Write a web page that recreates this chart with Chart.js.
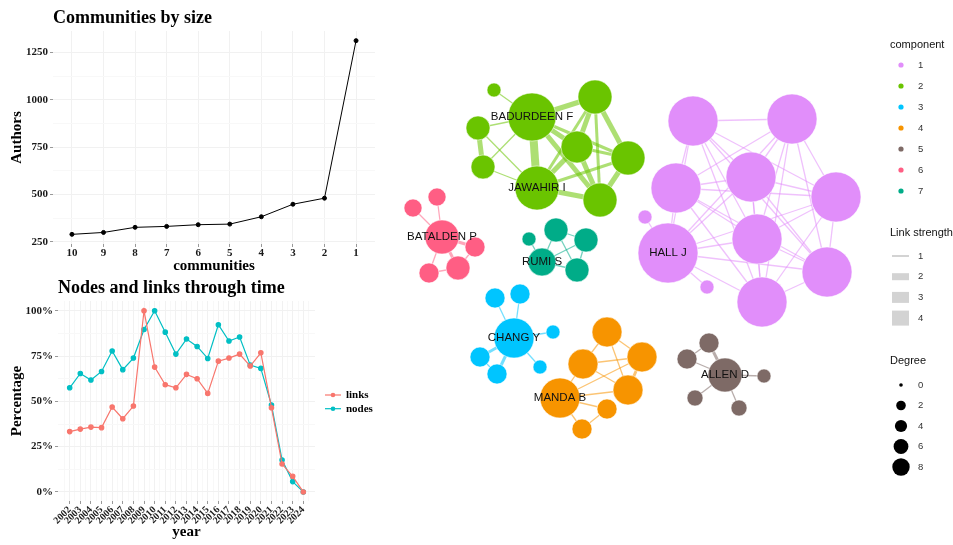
<!DOCTYPE html>
<html>
<head>
<meta charset="utf-8">
<script src="https://cdn.jsdelivr.net/npm/chart.js@4.4.1/dist/chart.umd.min.js"></script>
<style>
body{margin:0;background:#fff;width:953px;height:545px;overflow:hidden;position:relative}
canvas{position:absolute}
#c1{left:0;top:0}
#c2{left:0;top:275px}
#c3{left:380px;top:0}
</style>
</head>
<body>
<canvas id="c1" width="380" height="275"></canvas>
<canvas id="c2" width="380" height="270"></canvas>
<canvas id="c3" width="573" height="545"></canvas>
<script>
// ---- communities by size
var communities = [10, 9, 8, 7, 6, 5, 4, 3, 2, 1];
var authors = [289, 299, 326, 331, 340, 343, 382, 448, 480, 1312];
var authorTicks = [250, 500, 750, 1000, 1250];

// ---- nodes and links through time (%)
var years = [2002, 2003, 2004, 2005, 2006, 2007, 2008, 2009, 2010, 2011, 2012, 2013,
  2014, 2015, 2016, 2017, 2018, 2019, 2020, 2021, 2022, 2023, 2024];
var linksPct = [33.3, 34.7, 35.8, 35.5, 46.9, 40.4, 47.4, 100, 68.9, 59.2, 57.5, 64.9,
  62.5, 54.4, 72.2, 73.9, 76.1, 69.5, 76.8, 46.5, 15.4, 8.6, 0];
var nodesPct = [57.5, 65.4, 61.8, 66.5, 77.8, 67.5, 73.9, 89.7, 100, 88.2, 76.1, 84.4,
  80.3, 73.7, 92.3, 83.3, 85.5, 70, 68.2, 48, 17.6, 5.7, 0];
var pctTicks = [0, 25, 50, 75, 100];

// ---- co-authorship network (layout coordinates, component, size score)
var nodeLabel = ['', '', '', '', '', '', 'HALL J', '', '', '', '',
  '', 'BADURDEEN F', '', '', '', '', '', 'JAWAHIR I', '',
  '', '', 'CHANG Y', '', '', '', '',
  '', '', '', '', 'MANDA B', '', '',
  '', '', 'ALLEN D', '', '', '',
  '', '', 'BATALDEN P', '', '', '',
  '', '', '', 'RUMI S', ''];
var nodeX = [693, 792, 676, 751, 836, 757, 668, 827, 762, 645, 707,
  494, 532, 595, 478, 577, 628, 483, 537, 600,
  495, 520, 514, 553, 480, 497, 540,
  607, 583, 642, 628, 560, 607, 582,
  709, 687, 725, 764, 695, 739,
  437, 413, 442, 475, 458, 429,
  529, 556, 586, 542, 577];
var nodeY = [121, 119, 188, 177, 197, 239, 253, 272, 302, 217, 287,
  90, 117, 97, 128, 147, 158, 167, 188, 200,
  298, 294, 338, 332, 357, 374, 367,
  332, 364, 357, 390, 398, 409, 429,
  343, 359, 375, 376, 398, 408,
  197, 208, 237, 247, 268, 273,
  239, 230, 240, 262, 270];
var nodeComp = [1, 1, 1, 1, 1, 1, 1, 1, 1, 1, 1,
  2, 2, 2, 2, 2, 2, 2, 2, 2,
  3, 3, 3, 3, 3, 3, 3,
  4, 4, 4, 4, 4, 4, 4,
  5, 5, 5, 5, 5, 5,
  6, 6, 6, 6, 6, 6,
  7, 7, 7, 7, 7];
var nodeScore = [10, 10, 10, 10, 10, 10, 12, 10, 10, 2.8, 2.8,
  2.8, 9.6, 6.8, 4.8, 6.4, 6.8, 4.8, 8.8, 6.8,
  4, 4, 8, 2.8, 4, 4, 2.8,
  6, 6, 6, 6, 8, 4, 4,
  4, 4, 6.8, 2.8, 3.2, 3.2,
  3.6, 3.6, 6.8, 4, 4.8, 4,
  2.8, 4.8, 4.8, 5.6, 4.8];

var edgeFrom = [], edgeTo = [], edgeStrength = [];
function link(a, b, s) { edgeFrom.push(a); edgeTo.push(b); edgeStrength.push(s); }
// component 1: dense clique
for (var i = 0; i < 9; i++) for (var j = i + 1; j < 9; j++) link(i, j, 1);
link(9, 6, 1); link(10, 6, 1);
// component 2
link(12, 11, 1); link(12, 13, 3); link(12, 14, 1); link(12, 15, 3); link(12, 18, 4);
link(12, 16, 2); link(12, 19, 3); link(13, 15, 3); link(13, 16, 3); link(13, 19, 2);
link(13, 18, 2); link(15, 16, 2); link(15, 18, 3); link(15, 19, 3); link(16, 18, 2);
link(16, 19, 3); link(18, 19, 3); link(14, 17, 3); link(14, 18, 1); link(17, 12, 1);
link(17, 18, 1);
// component 3
link(20, 22, 1); link(21, 22, 1); link(22, 23, 1); link(22, 24, 2); link(22, 25, 2);
link(24, 25, 1); link(22, 26, 1);
// component 4
link(27, 28, 1); link(27, 29, 1); link(27, 30, 1); link(28, 29, 1); link(28, 30, 1);
link(28, 31, 1); link(29, 30, 2); link(29, 31, 1); link(30, 31, 1); link(31, 32, 1);
link(32, 33, 1); link(31, 33, 1);
// component 5
link(34, 35, 1); link(34, 36, 2); link(35, 36, 1); link(36, 37, 1); link(36, 38, 1); link(36, 39, 1);
// component 6
link(41, 42, 1); link(40, 42, 1); link(42, 43, 2); link(42, 44, 2); link(42, 45, 1);
link(43, 44, 1); link(45, 44, 1);
// component 7
link(46, 49, 1); link(47, 49, 1); link(47, 48, 1); link(49, 48, 1); link(49, 50, 1);
link(47, 50, 1); link(48, 50, 1);

var componentIds = [1, 2, 3, 4, 5, 6, 7];
var componentColors = ['#E18EFA', '#6AC400', '#00C5FF', '#F79400', '#7E6A66', '#FF5E84', '#00AC88'];
var strengthLevels = [1, 2, 3, 4];
var degreeLevels = [0, 2, 4, 6, 8];

var serif = "'Liberation Serif', 'Times New Roman', serif";
var sans = "'Liberation Sans', Arial, sans-serif";

function rgba(hex, a) {
  var n = parseInt(hex.slice(1), 16);
  return 'rgba(' + (n >> 16) + ',' + ((n >> 8) & 255) + ',' + (n & 255) + ',' + a + ')';
}
function withMinor(major, lo, hi) {
  var t = [];
  var step = major[1] - major[0];
  for (var v = major[0] - step / 2; v <= major[major.length - 1] + step / 2 + 1e-9; v += step / 2) {
    if (v >= lo && v <= hi) t.push({ value: v });
  }
  return t;
}
function isMajor(list, v) { return list.indexOf(v) >= 0; }

var tickFont = { family: serif, size: 11, weight: 'bold' };
var axisFont = { family: serif, size: 15, weight: 'bold' };
var titleFont = { family: serif, size: 18, weight: 'bold' };
var majorGrid = '#f1f1f1', minorGrid = '#f8f8f8';

// ================= chart 1 =================
new Chart(document.getElementById('c1'), {
  type: 'line',
  data: {
    datasets: [{
      data: communities.map(function (c, i) { return { x: c, y: authors[i] }; }),
      borderColor: '#000', backgroundColor: '#000', borderWidth: 1,
      pointRadius: 2, tension: 0
    }]
  },
  options: {
    responsive: false, animation: false,
    layout: { padding: { left: 0, right: 4, top: 0, bottom: 0 } },
    plugins: {
      legend: { display: false }, tooltip: { enabled: false },
      title: { display: true, text: 'Communities by size', align: 'start', fullSize: false,
        font: titleFont, color: '#000', padding: { top: 7.8, bottom: 1.6 } }
    },
    scales: {
      x: {
        type: 'linear', reverse: true, min: 0.4, max: 10.6,
        afterBuildTicks: function (s) { s.ticks = communities.map(function (v) { return { value: v }; }); },
        afterFit: function (s) { s.height = 31; },
        ticks: { font: tickFont, color: '#1a1a1a', padding: 0, maxRotation: 0, autoSkip: false,
          callback: function (v) { return String(v); } },
        grid: { color: majorGrid, lineWidth: 1, tickLength: 3, tickColor: '#999' },
        border: { display: false },
        title: { display: true, text: 'communities', font: axisFont, color: '#000', padding: { top: 0, bottom: 0 } }
      },
      y: {
        type: 'linear', min: 238, max: 1363,
        afterBuildTicks: function (s) { s.ticks = withMinor(authorTicks, 238, 1363); },
        afterFit: function (s) { s.width = 53; },
        ticks: { font: tickFont, color: '#1a1a1a', padding: 2,
          callback: function (v) { return isMajor(authorTicks, v) ? String(v) : ''; } },
        grid: {
          color: function (c) { return c.tick && isMajor(authorTicks, c.tick.value) ? majorGrid : minorGrid; },
          tickColor: function (c) { return c.tick && isMajor(authorTicks, c.tick.value) ? '#999' : 'rgba(0,0,0,0)'; },
          tickLength: 3
        },
        border: { display: false },
        title: { display: true, text: 'Authors', font: axisFont, color: '#000', padding: { top: 8.5, bottom: 0 } }
      }
    }
  }
});

// ================= chart 2 =================
var c2legend = {
  id: 'c2legend',
  afterDraw: function (chart) {
    var ctx = chart.ctx;
    ctx.save();
    chart.data.datasets.forEach(function (ds, i) {
      var y = 120 + i * 13.7;
      ctx.strokeStyle = ds.borderColor; ctx.lineWidth = 1.2;
      ctx.beginPath(); ctx.moveTo(325, y); ctx.lineTo(341, y); ctx.stroke();
      ctx.fillStyle = ds.borderColor;
      ctx.beginPath(); ctx.arc(333, y, 2.3, 0, Math.PI * 2); ctx.fill();
      ctx.fillStyle = '#000'; ctx.font = 'bold 11px ' + serif;
      ctx.textBaseline = 'middle'; ctx.textAlign = 'left';
      ctx.fillText(ds.label, 346, y);
    });
    ctx.restore();
  }
};
new Chart(document.getElementById('c2'), {
  type: 'line',
  data: {
    datasets: [
      { label: 'links', data: years.map(function (y, i) { return { x: y, y: linksPct[i] }; }),
        borderColor: '#F8766D', backgroundColor: '#F8766D', borderWidth: 1.2, pointRadius: 2.2, tension: 0 },
      { label: 'nodes', data: years.map(function (y, i) { return { x: y, y: nodesPct[i] }; }),
        borderColor: '#00BFC4', backgroundColor: '#00BFC4', borderWidth: 1.2, pointRadius: 2.2, tension: 0 }
    ]
  },
  plugins: [c2legend],
  options: {
    responsive: false, animation: false,
    layout: { padding: { left: 0, right: 65, top: 0, bottom: 0 } },
    plugins: {
      legend: { display: false }, tooltip: { enabled: false },
      title: { display: true, text: 'Nodes and links through time', align: 'start', fullSize: false,
        font: titleFont, color: '#000', padding: { top: 2.2, bottom: 2.2 } }
    },
    scales: {
      x: {
        type: 'linear', min: 2000.9, max: 2025.1,
        afterBuildTicks: function (s) { s.ticks = withMinor(years, 2000.9, 2025.1); },
        afterFit: function (s) { s.height = 44; },
        ticks: { font: { family: serif, size: 10, weight: 'bold' }, color: '#1a1a1a', padding: 0,
          minRotation: 45, maxRotation: 45, autoSkip: false,
          callback: function (v) { return isMajor(years, v) ? String(v) : ''; } },
        grid: {
          color: function (c) { return c.tick && isMajor(years, c.tick.value) ? majorGrid : minorGrid; },
          tickColor: function (c) { return c.tick && isMajor(years, c.tick.value) ? '#999' : 'rgba(0,0,0,0)'; },
          tickLength: 3
        },
        border: { display: false },
        title: { display: true, text: 'year', font: axisFont, color: '#000', padding: { top: 0, bottom: 3.5 } }
      },
      y: {
        type: 'linear', min: -5, max: 105.4,
        afterBuildTicks: function (s) { s.ticks = withMinor(pctTicks, -5, 105.4); },
        afterFit: function (s) { s.width = 58; },
        ticks: { font: tickFont, color: '#1a1a1a', padding: 2,
          callback: function (v) { return isMajor(pctTicks, v) ? v + '%' : ''; } },
        grid: {
          color: function (c) { return c.tick && isMajor(pctTicks, c.tick.value) ? majorGrid : minorGrid; },
          tickColor: function (c) { return c.tick && isMajor(pctTicks, c.tick.value) ? '#999' : 'rgba(0,0,0,0)'; },
          tickLength: 3
        },
        border: { display: false },
        title: { display: true, text: 'Percentage', font: axisFont, color: '#000', padding: { top: 8, bottom: 0 } }
      }
    }
  }
});

// ================= network =================
var netLeft = 380;
var strengthWidth = { 1: 1.3, 2: 3, 3: 5, 4: 8 };
function nodeRadius(score) { return score * 2.5; }

var edgeSets = edgeFrom.map(function (a, k) {
  var b = edgeTo[k];
  var col = componentColors[nodeComp[a] - 1];
  return {
    type: 'line',
    data: [{ x: nodeX[a], y: nodeY[a] }, { x: nodeX[b], y: nodeY[b] }],
    borderColor: rgba(col, 0.55), borderWidth: strengthWidth[edgeStrength[k]],
    pointRadius: 0, fill: false, clip: false, order: 2
  };
});
var nodeSets = componentIds.map(function (cid, ci) {
  var pts = [];
  nodeX.forEach(function (x, n) {
    if (nodeComp[n] === cid) pts.push({ x: x, y: nodeY[n], r: nodeRadius(nodeScore[n]), id: n });
  });
  return {
    type: 'bubble', label: String(cid), data: pts,
    backgroundColor: componentColors[ci], borderColor: 'rgba(255,255,255,0.55)', borderWidth: 1,
    clip: false, order: 1
  };
});

var netDecor = {
  id: 'netDecor',
  afterDatasetsDraw: function (chart) {
    var ctx = chart.ctx;
    ctx.save();
    ctx.font = '11.5px ' + sans; ctx.fillStyle = '#111';
    ctx.textAlign = 'center'; ctx.textBaseline = 'middle';
    chart.data.datasets.forEach(function (ds, di) {
      if (ds.type !== 'bubble') return;
      var meta = chart.getDatasetMeta(di);
      ds.data.forEach(function (p, j) {
        var lab = nodeLabel[p.id];
        if (lab) ctx.fillText(lab, meta.data[j].x, meta.data[j].y);
      });
    });
    // legends
    var lx = 890 - netLeft, kx = 901 - netLeft, tx = 918 - netLeft;
    ctx.textAlign = 'left';
    ctx.fillStyle = '#111'; ctx.font = '11px ' + sans;
    ctx.fillText('component', lx, 45);
    ctx.fillText('Link strength', lx, 233);
    ctx.fillText('Degree', lx, 361);
    ctx.font = '9.5px ' + sans;
    componentIds.forEach(function (cid, i) {
      var y = 65 + i * 21;
      ctx.fillStyle = componentColors[i];
      ctx.beginPath(); ctx.arc(kx, y, 2.6, 0, Math.PI * 2); ctx.fill();
      ctx.fillStyle = '#333'; ctx.fillText(String(cid), tx, y);
    });
    var keyH = [2, 7, 11, 15];
    strengthLevels.forEach(function (s, i) {
      var y = 256 + i * 20.7;
      ctx.fillStyle = '#d3d3d3';
      ctx.fillRect(892 - netLeft, y - keyH[i] / 2, 17, keyH[i]);
      ctx.fillStyle = '#333'; ctx.fillText(String(s), tx, y);
    });
    degreeLevels.forEach(function (d, i) {
      var y = 385 + i * 20.5;
      var r = d === 0 ? 1.8 : 3.5 + 0.65 * d;
      ctx.fillStyle = '#000';
      ctx.beginPath(); ctx.arc(kx, y, r, 0, Math.PI * 2); ctx.fill();
      ctx.fillStyle = '#333'; ctx.fillText(String(d), tx, y);
    });
    ctx.restore();
  }
};

new Chart(document.getElementById('c3'), {
  type: 'bubble',
  data: { datasets: edgeSets.concat(nodeSets) },
  plugins: [netDecor],
  options: {
    responsive: false, animation: false,
    layout: { padding: 0, autoPadding: false },
    plugins: { legend: { display: false }, tooltip: { enabled: false }, title: { display: false } },
    scales: {
      x: { type: 'linear', display: false, min: netLeft, max: 953 },
      y: { type: 'linear', display: false, min: 0, max: 545, reverse: true }
    }
  }
});
</script>
</body>
</html>
